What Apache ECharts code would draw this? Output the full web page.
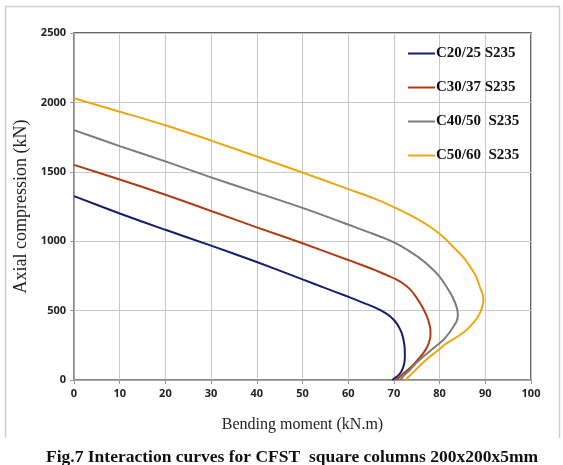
<!DOCTYPE html>
<html>
<head>
<meta charset="utf-8">
<script src="https://cdn.jsdelivr.net/npm/echarts@6/dist/echarts.min.js"></script>
<style>
  html, body { margin: 0; padding: 0; background: #fff; }
  #chart { width: 563px; height: 465px; }
</style>
</head>
<body>
<div id="chart"></div>
<script>
// Interaction curves (bending moment kN.m vs axial compression kN)
const seriesNames = ['C20/25 S235', 'C30/37 S235', 'C40/50  S235', 'C50/60  S235'];
const seriesColors = ['#14206e', '#b23c12', '#7b7b7b', '#eca712'];

const momentC20 = [0, 10, 20, 30, 40, 50, 55, 59, 62, 64.5, 66.5, 68, 69.2, 70.2, 71, 71.7, 72.1, 72.35, 72.4, 72.2, 71.6, 70.7, 69.6];
const axialC20  = [1325, 1200, 1082, 968, 850, 725, 662, 612, 574, 541, 512, 485, 458, 425, 388, 340, 290, 235, 170, 110, 60, 25, 0];

const momentC30 = [0, 10, 20, 30, 40, 50, 60, 65, 67, 69, 70.5, 72, 73.5, 74.6, 75.5, 76.4, 77.2, 77.7, 78, 78, 77.8, 77.3, 76.4, 75.3, 74.2, 73, 72, 71.2, 70.5];
const axialC30  = [1550, 1445, 1335, 1218, 1100, 985, 865, 803, 776, 747, 725, 695, 655, 610, 565, 515, 460, 410, 360, 320, 285, 240, 192, 150, 108, 72, 45, 20, 0];

const momentC40 = [0, 10, 20, 30, 40, 50, 60, 65, 68, 70, 71.4, 72.8, 75.5, 77.9, 80, 81.5, 82.8, 83.7, 84, 83.7, 83, 82, 80.8, 78.6, 76.4, 74.8, 73.5, 72.3, 71.4];
const axialC40  = [1800, 1685, 1575, 1460, 1350, 1240, 1120, 1058, 1020, 992, 968, 940, 882, 816, 745, 672, 600, 528, 470, 420, 384, 335, 288, 228, 168, 120, 72, 35, 0];

const momentC50 = [0, 10, 20, 30, 40, 50, 60, 65.5, 70, 74, 77.9, 80.8, 83.4, 85.3, 86.7, 88, 88.8, 89.4, 89.6, 89.3, 88.8, 87.6, 85.9, 83.8, 81.5, 79.3, 77.2, 75.6, 74.2, 73.3, 72.6];
const axialC50  = [2030, 1933, 1835, 1725, 1610, 1495, 1375, 1310, 1245, 1180, 1104, 1030, 945, 880, 816, 745, 672, 620, 576, 525, 480, 420, 360, 310, 264, 205, 150, 100, 55, 25, 0];

const xTicks = [0, 10, 20, 30, 40, 50, 60, 70, 80, 90, 100];
const yTicks = [0, 500, 1000, 1500, 2000, 2500];

const moments = [momentC20, momentC30, momentC40, momentC50];
const axials = [axialC20, axialC30, axialC40, axialC50];

const pairs = (xs, ys) => xs.map((x, i) => [x, ys[i]]);

const tickFont = { fontFamily: 'Open Sans, sans-serif', fontWeight: 'bold', fontSize: 11, color: '#222' };
const serif = 'Liberation Serif, "Times New Roman", serif';

const chart = echarts.init(document.getElementById('chart'), null, { renderer: 'canvas' });

chart.setOption({
  animation: false,
  backgroundColor: '#fff',
  grid: {
    left: 74, right: 32, top: 33, bottom: 85,
    show: true, borderColor: '#333', borderWidth: 1.5, backgroundColor: 'transparent'
  },
  title: {
    text: 'Fig.7 Interaction curves for CFST  square columns 200x200x5mm',
    left: 41, top: 443,
    textStyle: { fontFamily: serif, fontWeight: 'bold', fontSize: 17.5, color: '#111' }
  },
  legend: {
    orient: 'vertical',
    left: 403, top: 41,
    itemWidth: 27, itemHeight: 14, itemGap: 19,
    icon: 'path://M0,6 L27,6 L27,8 L0,8 Z',
    data: seriesNames,
    textStyle: { fontFamily: serif, fontWeight: 'bold', fontSize: 15, lineHeight: 14, color: '#111', padding: [0, 0, 0, -4] }
  },
  xAxis: {
    type: 'value', min: xTicks[0], max: xTicks[xTicks.length - 1], interval: 10,
    name: 'Bending moment (kN.m)', nameLocation: 'middle', nameGap: 37,
    nameTextStyle: { fontFamily: serif, fontSize: 16, color: '#222' },
    axisLine: { show: true, onZero: false, lineStyle: { color: '#999', width: 1.5 } },
    axisTick: { show: true, length: 4, inside: false, lineStyle: { color: '#999' } },
    axisLabel: Object.assign({ margin: 8, formatter: v => String(v) }, tickFont),
    splitLine: { show: true, lineStyle: { color: '#c9c9c9', width: 1 } }
  },
  yAxis: {
    type: 'value', min: yTicks[0], max: yTicks[yTicks.length - 1], interval: 500,
    name: 'Axial compression (kN)', nameLocation: 'middle', nameGap: 40,
    nameTextStyle: { fontFamily: serif, fontSize: 18, color: '#222' },
    axisLine: { show: true, onZero: false, lineStyle: { color: '#999', width: 1.5 } },
    axisTick: { show: true, length: 4, inside: false, lineStyle: { color: '#999' } },
    axisLabel: Object.assign({ margin: 8, formatter: v => String(v) }, tickFont),
    splitLine: { show: true, lineStyle: { color: '#c9c9c9', width: 1 } }
  },
  series: seriesNames.map((name, i) => ({
    name: name,
    type: 'line',
    data: pairs(moments[i], axials[i]),
    smooth: 0.25,
    symbol: 'none',
    color: seriesColors[i],
    lineStyle: { width: 2, color: seriesColors[i] },
    z: 3
  })),
  graphic: [{
    type: 'polyline',
    shape: { points: [[5.5, 438], [5.5, 6.5], [559.5, 6.5], [559.5, 438]] },
    style: { stroke: '#cfcfcf', lineWidth: 1.5, fill: null },
    silent: true
  }]
});
</script>
</body>
</html>
